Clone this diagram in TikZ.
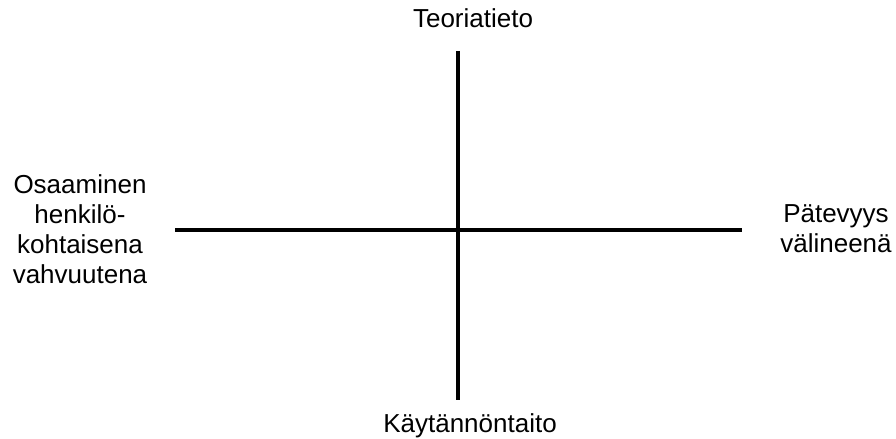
\documentclass[tikz,border=0pt]{standalone}
\usepackage{fontspec}
\setmainfont{Liberation Sans}
\usepackage{tikz}
\usetikzlibrary{positioning}

\begin{document}
\begin{tikzpicture}[x=1bp, y=-1bp,
    label/.style={anchor=base, inner sep=0pt, align=center,
      font=\fontsize{26bp}{30bp}\selectfont},
    axis/.style={line width=3.5bp}]
  \useasboundingbox (0,0) rectangle (896,439);
  % Axis end points
  \coordinate (top) at (458,51);
  \coordinate (bottom) at (458,400);
  \coordinate (left) at (175,230);
  \coordinate (right) at (742,230);
  \draw[axis] (top) -- (bottom);
  \draw[axis] (left) -- (right);
  % Labels (base = baseline of last line)
  \node[label] (theory) at (473,28) {Teoriatieto};
  \node[label] (practice) at (470,432) {Käytännöntaito};
  \node[label] (strength) at (80,284) {Osaaminen\\henkilö-\\kohtaisena\\vahvuutena};
  \node[label] (tool) at (836,253) {Pätevyys\\välineenä};
\end{tikzpicture}
\end{document}
